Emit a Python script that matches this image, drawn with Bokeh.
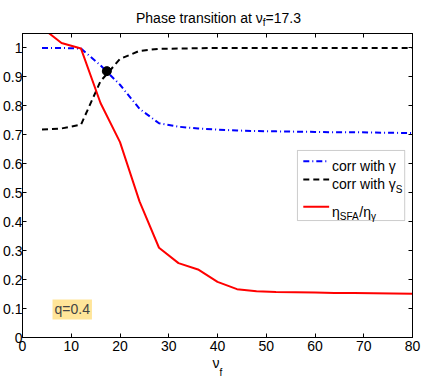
from bokeh.plotting import figure
from bokeh.layouts import column
from bokeh.models import Range1d, FixedTicker, LinearAxis, Label, BoxAnnotation, ColumnDataSource
from bokeh.embed import file_html
from bokeh.resources import INLINE

# ---- data ----
nu_f = [4, 8, 12, 16, 20, 24, 28, 32, 36, 40, 44, 48, 52, 56, 60, 64, 68, 72, 76, 80]
corr_gamma = [1.0, 1.0, 0.998, 0.94, 0.873, 0.79, 0.74, 0.728, 0.722, 0.718, 0.715, 0.713,
              0.712, 0.711, 0.710, 0.709, 0.709, 0.708, 0.707, 0.706]
corr_gamma_s = [0.718, 0.722, 0.735, 0.885, 0.962, 0.99, 0.997, 0.998, 0.999, 1.0, 1.0, 1.0,
                1.0, 1.0, 1.0, 1.0, 1.0, 1.0, 1.0, 1.0]
eta_ratio = [1.07, 1.017, 0.998, 0.81, 0.675, 0.47, 0.31, 0.257, 0.235, 0.192, 0.167, 0.16,
             0.157, 0.156, 0.155, 0.154, 0.154, 0.153, 0.152, 0.151]
transition_nu = [17.3]
transition_corr = [0.92]
x_ticks = [0, 10, 20, 30, 40, 50, 60, 70, 80]
y_ticks = [0, 0.1, 0.2, 0.3, 0.4, 0.5, 0.6, 0.7, 0.8, 0.9, 1]
y_tick_labels = ["0", "0.1", "0.2", "0.3", "0.4", "0.5", "0.6", "0.7", "0.8", "0.9", "1"]

FONT = "Liberation Sans"
FS = 14
SUB = 10
WIDTH = 423
TOP_H = 33
MAIN_H = 324
BOT_H = 29
BOT_OVERLAP = 8

W = {' ': 278, 'P': 667, 'h': 556, 'a': 556, 's': 500, 'e': 556, 't': 278, 'r': 333, 'n': 556,
     'i': 222, 'o': 556, 'c': 500, 'w': 722, '=': 584, '1': 556, '7': 556, '.': 278, '3': 556,
     '/': 278, 'S': 667, 'F': 611, 'A': 667, 'f': 278, 'ν': 500, 'γ': 500, 'η': 556, 'q': 556,
     '0': 556, '4': 556}


def tw(s, size):
    return sum(W.get(ch, 556) for ch in s) * size / 1000.0


def text_strip(h):
    f = figure(width=WIDTH, height=h, x_range=Range1d(0, WIDTH), y_range=Range1d(h, 0),
               x_axis_type=None, y_axis_type=None, output_backend="svg", toolbar_location=None,
               min_border=0, min_border_left=0, min_border_right=0, min_border_top=0,
               min_border_bottom=0, outline_line_color=None,
               background_fill_alpha=0, border_fill_alpha=0)
    f.grid.visible = False
    return f


def put(fig, x, y, txt, size):
    fig.add_layout(Label(x=x, y=y, x_units="canvas", y_units="canvas", text=txt,
                         text_font=FONT, text_font_size=f"{size}px", text_color="black",
                         text_align="left", text_baseline="alphabetic"))


# ---- title strip: Phase transition at ν_f=17.3 ----
pt = text_strip(TOP_H)
t1, t2, t3 = "Phase transition at ν", "f", "=17.3"
total = tw(t1, FS) + tw(t2, SUB) + tw(t3, FS)
x0 = 218 - total / 2
put(pt, x0, 17, t1, FS)
put(pt, x0 + tw(t1, FS), 22, t2, SUB)
put(pt, x0 + tw(t1, FS) + tw(t2, SUB), 17, t3, FS)

# ---- main plot ----
src = ColumnDataSource(dict(nu=nu_f, cg=corr_gamma, cgs=corr_gamma_s, eta=eta_ratio))

p = figure(width=WIDTH, height=MAIN_H, x_range=Range1d(0, 80), y_range=Range1d(0, 1.05),
           output_backend="svg", toolbar_location=None,
           min_border_left=22, min_border_right=11, min_border_top=0, min_border_bottom=20,
           background_fill_color="white", border_fill_color="white")
p.grid.visible = False
p.outline_line_color = "black"
p.outline_line_width = 1

for ax in (p.xaxis[0], p.yaxis[0]):
    ax.major_tick_in = 4
    ax.major_tick_out = 0
    ax.minor_tick_in = 0
    ax.minor_tick_out = 0
    ax.minor_tick_line_color = None
    ax.axis_line_color = "black"
    ax.major_tick_line_color = "black"
    ax.major_label_text_font = FONT
    ax.major_label_text_font_size = f"{FS}px"
    ax.major_label_text_color = "black"
p.xaxis[0].ticker = FixedTicker(ticks=x_ticks)
p.yaxis[0].ticker = FixedTicker(ticks=y_ticks)
p.yaxis[0].major_label_overrides = {t: l for t, l in zip(y_ticks, y_tick_labels)}
p.xaxis[0].major_label_standoff = 3
p.yaxis[0].major_label_standoff = 0

top_ax = LinearAxis(ticker=FixedTicker(ticks=x_ticks), major_tick_in=4, major_tick_out=0,
                    minor_tick_in=0, minor_tick_out=0,
                    minor_tick_line_color=None, major_label_overrides={t: "" for t in x_ticks},
                    major_label_standoff=0, axis_line_color="black")
right_ax = LinearAxis(ticker=FixedTicker(ticks=y_ticks), major_tick_in=4, major_tick_out=0,
                      minor_tick_in=0, minor_tick_out=0,
                      minor_tick_line_color=None, major_label_overrides={t: "" for t in y_ticks},
                      major_label_standoff=0, axis_line_color="black")
p.add_layout(top_ax, "above")
p.add_layout(right_ax, "right")

BLUE = "#0000ff"
RED = "#ff0000"
p.line("nu", "cg", source=src, line_color=BLUE, line_width=2, line_dash="6 3 1 3")
p.line("nu", "cgs", source=src, line_color="black", line_width=2, line_dash="6 4")
p.line("nu", "eta", source=src, line_color=RED, line_width=2)
p.scatter(transition_nu, transition_corr, size=9, color="black")

# ---- q label ----
p.add_layout(Label(x=10.2, y=0.097, text="q=0.4", text_font=FONT, text_font_size=f"{FS}px",
                   text_align="center", text_baseline="middle",
                   background_fill_color="#ffe599", padding=2))

# ---- legend ----
p.add_layout(BoxAnnotation(left=56.4, right=78.4, bottom=0.404, top=0.646,
                           fill_color="white", fill_alpha=1, line_color="#555555",
                           line_width=1, level="underlay"))
rows = [0.609, 0.546, 0.452]
sw0, sw1, tx = 57.6, 62.9, 63.5
p.line([sw0, sw1], [rows[0], rows[0]], line_color=BLUE, line_width=2, line_dash="6 3 1 3")
p.line([sw0, sw1], [rows[1], rows[1]], line_color="black", line_width=2, line_dash="6 4")
p.line([sw0, sw1], [rows[2], rows[2]], line_color=RED, line_width=2)

legend_parts = [
    [("corr with γ", FS, 0)],
    [("corr with γ", FS, 0), ("S", SUB, -5)],
    [("η", FS, 0), ("SFA", SUB, -5), ("/η", FS, 0), ("γ", SUB, -5)],
]
for ry, parts in zip(rows, legend_parts):
    dx = 0
    for txt, size, dy in parts:
        p.add_layout(Label(x=tx, y=ry, x_offset=dx, y_offset=-5 + dy, text=txt, text_font=FONT,
                           text_font_size=f"{size}px", text_align="left",
                           text_baseline="alphabetic", text_color="black"))
        dx += tw(txt, size)

# ---- x-axis label strip: ν_f (overlaps the bottom of the plot, transparent) ----
pb = text_strip(BOT_H)
pb.styles = {"margin-top": f"-{BOT_OVERLAP}px"}
put(pb, 212, 362 - (TOP_H + MAIN_H - BOT_OVERLAP), "ν", FS)
put(pb, 212 + tw("ν", FS), 372 - (TOP_H + MAIN_H - BOT_OVERLAP), "f", SUB)

layout = column(pt, p, pb, spacing=0)
open("out.html", "w").write(file_html(layout, INLINE))
